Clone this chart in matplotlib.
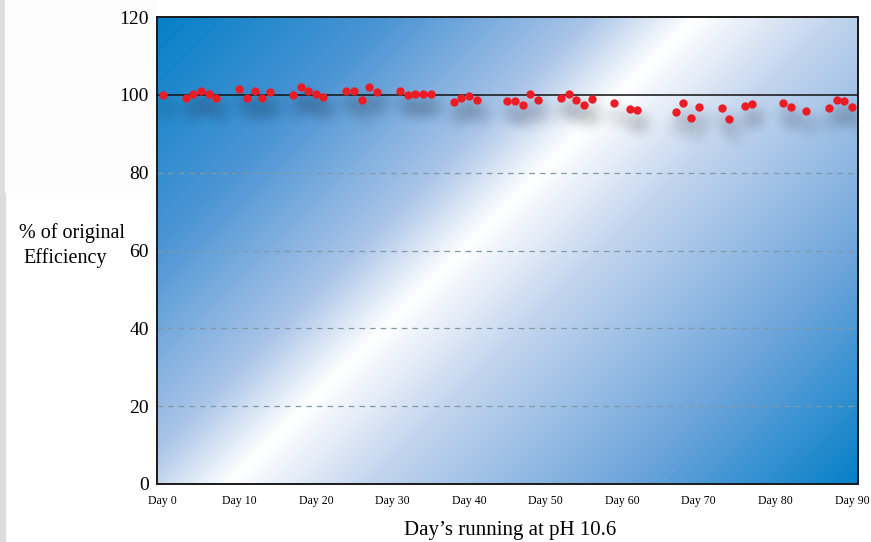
import numpy as np
import matplotlib
matplotlib.use("Agg")
import matplotlib.pyplot as plt
import matplotlib.colors as mcolors
import matplotlib.patches as mpatches
from matplotlib.transforms import ScaledTranslation

# data
days = [0, 3, 4, 5, 6, 7, 10, 11, 12, 13, 14, 17, 18, 19, 20, 21,
        24, 25, 26, 27, 28, 31, 32, 33, 34, 35, 38, 39, 40, 41,
        45, 46, 47, 48, 49, 52, 53, 54, 55, 56, 59, 61, 62,
        67, 68, 69, 70, 73, 74, 76, 77, 81, 82, 84, 87, 88, 89, 90]
efficiency = [99.9, 99.3, 100.1, 101.0, 100.3, 99.3, 101.4, 99.3, 101.0, 99.3, 100.6,
              100.0, 102.1, 101.0, 100.2, 99.4, 101.1, 101.0, 98.8, 102.1, 100.7,
              101.0, 100.0, 100.3, 100.3, 100.3, 98.2, 99.1, 99.7, 98.7,
              98.5, 98.4, 97.4, 100.2, 98.7, 99.3, 100.2, 98.7, 97.3, 99.0,
              97.9, 96.4, 96.0, 95.5, 97.9, 94.1, 96.9, 96.5, 93.9, 97.2, 97.7,
              97.9, 96.9, 95.9, 96.7, 98.8, 98.5, 96.9]
x_ticks = [0, 10, 20, 30, 40, 50, 60, 70, 80, 90]
x_labels = ["Day " + str(d) for d in x_ticks]
y_ticks = [0, 20, 40, 60, 80, 100, 120]
grid_levels = [20, 40, 60, 80]

serif = ["Liberation Serif", "DejaVu Serif"]
plt.rcParams["font.family"] = serif

fig = plt.figure(figsize=(8.71, 5.42), dpi=100)
fig.patch.set_facecolor("white")

# page decoration: grey strip on the left, faint tint top-left
fig.add_artist(mpatches.Rectangle((0, 0), 5 / 871, 1, transform=fig.transFigure,
                                  color="#dcdde1", zorder=0))
fig.add_artist(mpatches.Rectangle((5 / 871, 1 - 192 / 542), 152 / 871, 192 / 542,
                                  transform=fig.transFigure, color="#fcfcfc", zorder=0))

ax = fig.add_axes([157 / 871, 1 - 484 / 542, 701 / 871, 467 / 542])
ax.set_xlim(-0.74, 90.8)
ax.set_ylim(0, 120)

# diagonal blue-white-blue background gradient (45 deg in pixel space)
h, w = 467, 701
yy, xx = np.mgrid[0:h, 0:w]
t = (xx + yy) / (w + h - 2)
cmap = mcolors.LinearSegmentedColormap.from_list("bg", [
    (0.0, "#0580c8"), (0.2, "#4d95d4"), (0.37, "#a9c4e8"), (0.46, "#ffffff"),
    (0.58, "#c3d5ee"), (0.8, "#6ea5db"), (1.0, "#0580c8")])
ax.imshow(t, cmap=cmap, aspect="auto", extent=[*ax.get_xlim(), 0, 120],
          origin="upper", zorder=0, interpolation="bilinear")

for g in grid_levels:
    ax.axhline(g, color="#7f9aa6", lw=0.9, ls=(0, (4.5, 4)), zorder=1)
ax.axhline(100, color="#111111", lw=1.1, zorder=2)

# blurred drop shadow under the dots
off = ax.transData + ScaledTranslation(4 / 100, -13 / 100, fig.dpi_scale_trans)
for size, alpha in [(600, 0.012), (420, 0.016), (280, 0.02), (160, 0.024), (80, 0.026)]:
    ax.scatter(days, efficiency, s=size, color="#303848", alpha=alpha,
               lw=0, transform=off, zorder=2)

ax.scatter(days, efficiency, s=36, color="#ec1c24", lw=0, zorder=3, clip_on=False)

ax.set_xticks(x_ticks)
ax.set_xticklabels(x_labels, fontsize=8.5)
ax.set_yticks(y_ticks)
ax.set_yticklabels([str(v) for v in y_ticks], fontsize=14)
ax.tick_params(axis="both", length=0)
ax.tick_params(axis="x", pad=8)
ax.tick_params(axis="y", pad=6)

for s in ax.spines.values():
    s.set_color("#1a1a1a")
    s.set_linewidth(1.4)

fig.text(72 / 871, 1 - 233 / 542, "% of original", fontsize=14.5,
         ha="center", va="center")
fig.text(65 / 871, 1 - 258 / 542, "Efficiency", fontsize=14.5,
         ha="center", va="center")
fig.text(510 / 871, 1 - 530 / 542, "Day\u2019s running at pH 10.6", fontsize=15,
         ha="center", va="center")

fig.savefig("out.png", dpi=100)
